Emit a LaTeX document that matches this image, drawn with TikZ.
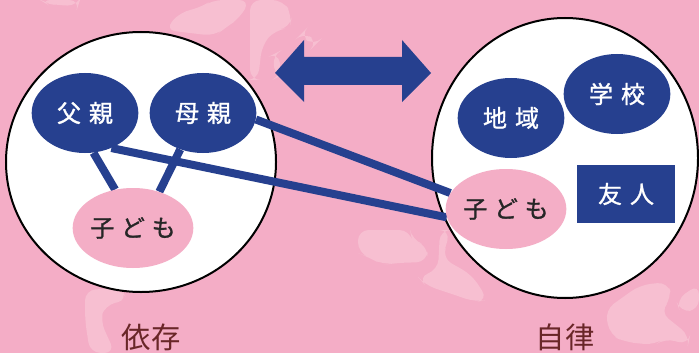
\documentclass[tikz,border=0pt]{standalone}
\usepackage{fontspec}
\newfontfamily\jp{Noto Sans CJK JP}
\newfontfamily\jpnode{Noto Sans CJK JP}[FakeBold=1.2]
\usetikzlibrary{shapes.geometric}

\definecolor{bgpink}{RGB}{244,173,198}
\definecolor{blobpink}{RGB}{247,191,209}
\definecolor{kidpink}{RGB}{244,174,198}
\definecolor{navy}{RGB}{38,64,143}
\definecolor{capbrown}{RGB}{105,38,40}

\pgfdeclarelayer{back}
\pgfdeclarelayer{mid}
\pgfsetlayers{back,mid,main}

\tikzset{
  blueball/.style={ellipse, fill=navy, text=white, inner sep=0pt,
    minimum width=80pt, minimum height=60pt, font=\jpnode\fontsize{18}{18}\selectfont},
  kidball/.style={ellipse, fill=kidpink, text=black!85, inner sep=0pt,
    minimum width=80pt, minimum height=60pt, font=\jpnode\fontsize{18}{18}\selectfont},
  friendbox/.style={rectangle, fill=navy, text=white, inner sep=0pt,
    minimum width=74pt, minimum height=44pt, font=\jpnode\fontsize{18}{18}\selectfont},
  tie/.style={navy, line width=6pt},
  blob/.style={blobpink, rounded corners=8pt},
  caption/.style={text=capbrown, font=\jp\fontsize{22}{22}\selectfont}
}

\begin{document}
\begin{tikzpicture}[x=0.75pt,y=0.75pt,yscale=-1,xscale=1]
        \useasboundingbox (0,0) rectangle (699,353);

        \begin{pgfonlayer}{back}
        % background
        \fill[bgpink] (0,0) rectangle (699,353);
        % faint blobs
        \fill[blob] (40,0) -- (80,0) -- (78,6) -- (55,5) -- (45,3) -- cycle;
        \fill[blob] (165,30) -- (180,12) -- (200,8) -- (212,0) -- (250,0) -- (240,18) -- (225,28) -- (215,36) -- cycle;
        \fill[blob] (250,0) -- (283,0) -- (292,15) -- (290,28) -- (275,30) -- (262,45) -- (258,80) -- (250,80) -- cycle;
        \fill[blob] (300,35) -- (303,32) -- (318,42) -- (314,46) -- cycle;
        \fill[blob] (272,55) -- (278,52) -- (282,75) -- (276,78) -- cycle;
        \fill[blob] (358,230) -- (410,230) -- (412,240) -- (428,246) -- (427,262) -- (395,263) -- (383,265) -- (368,257) -- (358,253) -- cycle;
        \fill[blob] (440,230) -- (450,230) -- (445,250) -- (442,258) -- (472,275) -- (488,300) -- (475,302) -- (455,295) -- (425,285) -- (418,277) -- (438,270) -- cycle;
        \fill[blob] (85,290) -- (120,288) -- (128,300) -- (105,305) -- (100,320) -- (115,353) -- (90,353) -- (85,320) -- cycle;
        \fill[blob] (605,310) -- (640,285) -- (668,282) -- (672,298) -- (660,312) -- (690,336) -- (688,345) -- (665,338) -- (655,345) -- (625,342) -- (610,335) -- cycle;
        \fill[blob] (676,300) -- (699,284) -- (699,310) -- (680,312) -- cycle;
        % big circles
        \draw[line width=1.5pt, fill=white] (141,162) ellipse [x radius=135, y radius=130];
        \draw[line width=1.5pt, fill=white] (565,158) ellipse [x radius=133, y radius=140];
        % double arrow
        \fill[navy] (275,73) -- (304,40) -- (304,57) -- (402,57) -- (402,40) -- (431,73)
            -- (402,102) -- (402,85) -- (304,85) -- (304,102) -- cycle;
        \end{pgfonlayer}

        % left circle
        \node[blueball] (fa) at (85,113) {父\hspace{6pt}親};
        \node[blueball] (mo) at (203,113) {母\hspace{6pt}親};
        \node[kidball] (kl) at (133,228) {子\hspace{5pt}ど\hspace{5pt}も};

        % right circle
        \node[blueball] (area) at (511,118) {地\hspace{6pt}域};
        \node[blueball] (school) at (617,94) {学\hspace{6pt}校};
        \node[kidball] (kr) at (506,209) {子\hspace{5pt}ど\hspace{5pt}も};
        \node[friendbox] (friend) at (626,194) {友\hspace{6pt}人};

        % connectors
        \begin{pgfonlayer}{mid}
        \draw[tie] (fa.-78) -- (kl.115);
        \draw[tie] (mo.-122) -- (kl.54);
        \draw[tie] (mo.-7) -- (kr.164);
        \draw[tie] (fa.-53) -- (kr.188);
        \end{pgfonlayer}

        % captions
        \node[caption] (dep) at (151,337) {依存};
        \node[caption] (aut) at (565,337) {自律};

\end{tikzpicture}
\end{document}
